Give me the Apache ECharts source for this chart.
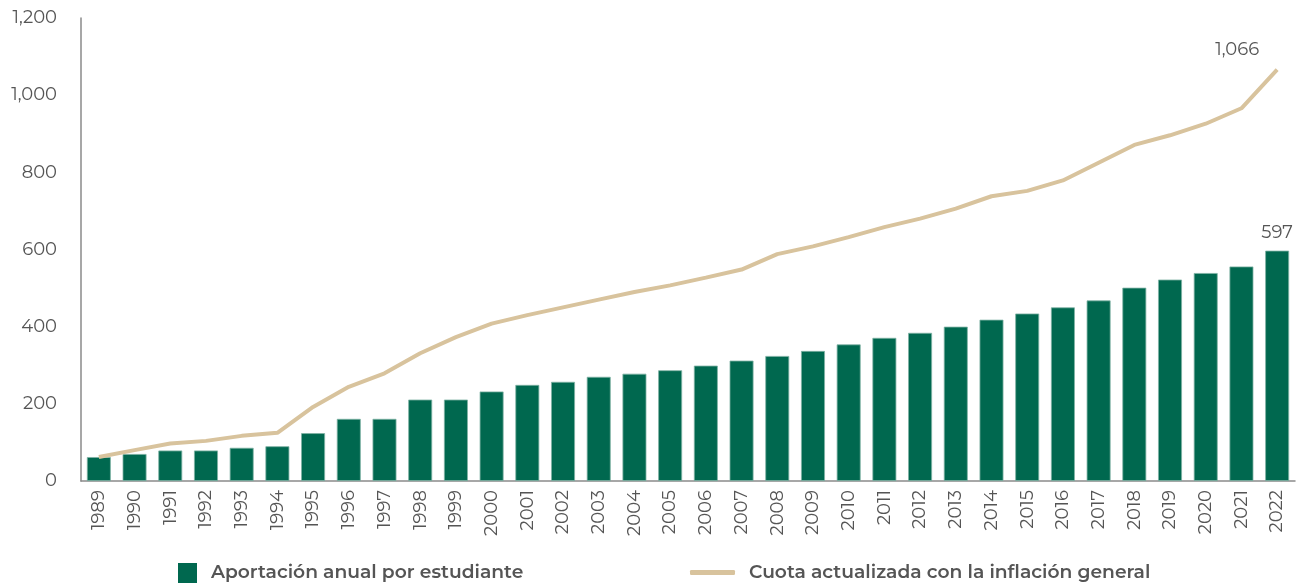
<!DOCTYPE html>
<html><head><meta charset="utf-8">
<script src="https://cdn.jsdelivr.net/npm/echarts@6/dist/echarts.min.js"></script>
<style>html,body{margin:0;padding:0;background:#fff}#c{width:1300px;height:585px}</style>
</head><body><div id="c"></div>
<script>
const years = ['1989','1990','1991','1992','1993','1994','1995','1996','1997','1998','1999','2000','2001','2002','2003','2004','2005','2006','2007','2008','2009','2010','2011','2012','2013','2014','2015','2016','2017','2018','2019','2020','2021','2022'];
const aportacion = [62,70,79,79,86,90,124,161,161,211,211,232,249,257,270,278,287,299,312,324,337,354,371,384,400,418,434,450,468,501,522,539,556,597];
const cuota = [62,80,97,104,117,125,192,244,279,331,373,408,430,450,470,490,507,527,548,588,608,632,658,680,706,738,752,779,825,871,896,926,966,1066];
const yTicks = [0,200,400,600,800,1000,1200];
const seriesNames = ['Aportación anual por estudiante','Cuota actualizada con la inflación general'];

const fmt = v => v.toLocaleString('en-US');
const chart = echarts.init(document.getElementById('c'));
const font = 'Montserrat, "Open Sans", "Noto Sans", sans-serif';
const legendText = {fontSize:18.7,fontWeight:600,color:'#555',fontFamily:font,padding:[0,0,0,9]};
chart.setOption({
  animation:false,
  textStyle:{fontFamily:font},
  grid:{left:81,right:5,top:18,bottom:104},
  legend:[
    {left:178, top:563, padding:0, itemWidth:19, itemHeight:20,
     textStyle:legendText,
     data:[{name:seriesNames[0],icon:'rect',itemStyle:{borderWidth:0}}]},
    {left:690, top:563, padding:0, itemWidth:45, itemHeight:5,
     textStyle:legendText,
     data:[{name:seriesNames[1],icon:'roundRect'}]}
  ],
  xAxis:{type:'category',data:years,
    axisLine:{lineStyle:{color:'#8a8a8a',width:1.5}},axisTick:{show:false},
    axisLabel:{rotate:90,fontSize:18,color:'#555',margin:9,interval:0}},
  yAxis:{type:'value',min:0,max:1200,interval:200,
    axisLine:{show:true,lineStyle:{color:'#8a8a8a',width:1.5}},splitLine:{show:false},
    axisLabel:{fontSize:18,color:'#555',margin:24,formatter:v=>fmt(v)}},
  series:[
    {name:seriesNames[0],type:'bar',data:aportacion,barCategoryGap:'33%',
     itemStyle:{color:'#00684F',borderColor:'#7fb3a4',borderWidth:0.8},
     label:{show:true,position:'top',fontSize:18,color:'#555',distance:9,
       formatter:p=>p.dataIndex===aportacion.length-1?fmt(p.value):''}},
    {name:seriesNames[1],type:'line',data:cuota,symbol:'none',
     lineStyle:{color:'#D8C39D',width:4},itemStyle:{color:'#D8C39D'},
     endLabel:{show:true,formatter:p=>fmt(p.value),fontSize:18,color:'#555',offset:[-70,-20]}}
  ]
});
</script></body></html>
